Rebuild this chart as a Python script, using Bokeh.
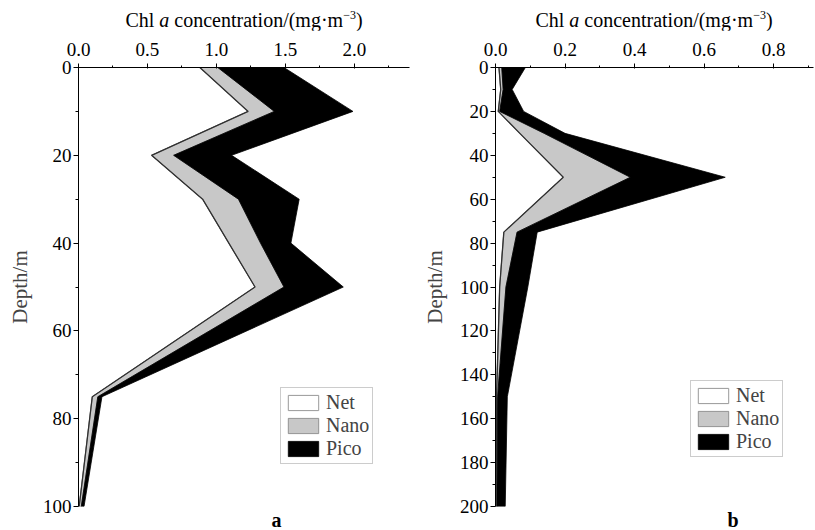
from bokeh.plotting import figure
from bokeh.layouts import row, column
from bokeh.models import Range1d, LinearAxis, FixedTicker, Legend, LegendItem, Div, Title
from bokeh.embed import file_html
from bokeh.resources import INLINE

# ---------------- data ----------------
# panel a : Chl a per size class (mg m-3) at each depth (m)
depth_a = [0, 10, 20, 30, 40, 50, 75, 100]
net_a = [0.88, 1.23, 0.53, 0.90, 1.09, 1.28, 0.10, 0.005]
nano_a = [0.13, 0.19, 0.16, 0.26, 0.23, 0.21, 0.04, 0.015]
pico_a = [0.48, 0.57, 0.42, 0.44, 0.22, 0.43, 0.03, 0.02]

# panel b
depth_b = [0, 10, 20, 30, 50, 75, 100, 150, 200]
net_b = [0.010, 0.015, 0.008, 0.07, 0.195, 0.024, 0.012, 0.003, 0.002]
nano_b = [0.008, 0.007, 0.004, 0.07, 0.193, 0.038, 0.018, 0.003, 0.002]
pico_b = [0.068, 0.026, 0.069, 0.06, 0.273, 0.058, 0.063, 0.028, 0.024]

classes = ["Net", "Nano", "Pico"]
panel_letters = ["a", "b"]

xticks_a = [0.0, 0.5, 1.0, 1.5, 2.0]
xlabels_a = ["0.0", "0.5", "1.0", "1.5", "2.0"]
xminor_a = [0.25, 0.75, 1.25, 1.75, 2.25]
yticks_a = [0, 20, 40, 60, 80, 100]
yminor_a = [10, 30, 50, 70, 90]

xticks_b = [0.0, 0.2, 0.4, 0.6, 0.8]
xlabels_b = ["0.0", "0.2", "0.4", "0.6", "0.8"]
xminor_b = [0.1, 0.3, 0.5, 0.7, 0.9]
yticks_b = [0, 20, 40, 60, 80, 100, 120, 140, 160, 180, 200]
yminor_b = [10, 30, 50, 70, 90, 110, 130, 150, 170, 190]

FONT = "Liberation Serif"


def cumulate(*series):
    out = []
    acc = [0.0] * len(series[0])
    for s in series:
        acc = [a + v for a, v in zip(acc, s)]
        out.append(acc)
    return out


def band(depth, left, right):
    xs = list(left) + list(reversed(right))
    ys = list(depth) + list(reversed(depth))
    return xs, ys


def panel(width, mb_left, mb_right, mb_top, mb_bottom, xmax, ymax,
          depth, net, nano, pico, xticks, xlabels, xminor, yticks, yminor,
          ylab_standoff, legend_loc, letter, letter_offset):
    p = figure(width=width, height=500, x_range=Range1d(0, xmax),
               y_range=Range1d(ymax, 0), output_backend="svg",
               toolbar_location=None, x_axis_location=None,
               y_axis_location=None, min_border_left=mb_left,
               min_border_right=mb_right, min_border_top=mb_top,
               min_border_bottom=mb_bottom)
    p.outline_line_color = None
    p.background_fill_color = "white"
    p.border_fill_color = "white"
    p.xgrid.visible = False
    p.ygrid.visible = False

    c_net, c_nano, c_pico = cumulate(net, nano, pico)
    zero = [0.0] * len(depth)

    xs, ys = band(depth, zero, c_net)
    r_net = p.patch(xs, ys, fill_color="white", line_color="#999999", line_width=1)
    xs, ys = band(depth, c_net, c_nano)
    r_nano = p.patch(xs, ys, fill_color="#c8c8c8", line_color="#808080", line_width=0.8)
    xs, ys = band(depth, c_nano, c_pico)
    r_pico = p.patch(xs, ys, fill_color="black", line_color="black", line_width=0.8)
    p.line(c_net, depth, line_color="#303030", line_width=1.3)

    xa = LinearAxis(ticker=FixedTicker(ticks=xticks, minor_ticks=xminor),
                    major_label_overrides={t: l for t, l in zip(xticks, xlabels)})
    xa.major_label_text_font = FONT
    xa.major_label_text_font_size = "19px"
    xa.major_label_text_color = "black"
    xa.major_tick_out = 4
    xa.major_tick_in = 1
    xa.minor_tick_out = 2
    xa.minor_tick_in = 0
    xa.major_label_standoff = 8
    xa.axis_line_color = "black"
    p.add_layout(xa, "above")

    ya = LinearAxis(ticker=FixedTicker(ticks=yticks, minor_ticks=yminor),
                    axis_label="Depth/m")
    ya.axis_label_text_font = FONT
    ya.axis_label_text_font_style = "normal"
    ya.axis_label_text_font_size = "21px"
    ya.axis_label_standoff = ylab_standoff
    ya.major_label_text_font = FONT
    ya.major_label_text_font_size = "19px"
    ya.major_label_text_color = "black"
    ya.major_tick_out = 5
    ya.major_tick_in = 0
    ya.minor_tick_out = 3
    ya.minor_tick_in = 0
    ya.major_label_standoff = 2
    p.add_layout(ya, "left")

    legend = Legend(items=[LegendItem(label=classes[0], renderers=[r_net]),
                           LegendItem(label=classes[1], renderers=[r_nano]),
                           LegendItem(label=classes[2], renderers=[r_pico])],
                    location=legend_loc)
    legend.label_text_font = FONT
    legend.label_text_font_size = "20px"
    legend.glyph_width = 38
    legend.glyph_height = 19
    legend.spacing = 0
    legend.padding = 3
    legend.margin = 0
    legend.label_standoff = 4
    legend.border_line_color = "#999999"
    legend.border_line_width = 1
    legend.background_fill_alpha = 1.0
    p.add_layout(legend)

    p.add_layout(Title(text=letter, align="left", offset=letter_offset,
                       text_font=FONT, text_font_size="20px",
                       text_font_style="bold", text_color="black",
                       standoff=0), "below")
    return p


pa = panel(415, 78, 6, 35, 21, 2.4, 100, depth_a, net_a, nano_a, pico_a,
           xticks_a, xlabels_a, xminor_a, yticks_a, yminor_a, 8, (202, 42),
           panel_letters[0], 193)
pb = panel(400, 80, 2, 37, 18, 0.915, 200, depth_b, net_b, nano_b, pico_b,
           xticks_b, xlabels_b, xminor_b, yticks_b, yminor_b, 10, (195, 49),
           panel_letters[1], 232)

title_html = ("Chl <i>a</i> concentration/(mg\u00b7m"
              "<span style='font-size:12px;position:relative;top:-8px'>\u22123</span>)")


def span(center, top, inner):
    return ("<div style=\"position:absolute;left:%dpx;top:%dpx;width:320px;"
            "text-align:center;font-family:'Liberation Serif';font-size:20px;"
            "line-height:20px;color:black;white-space:nowrap;\">%s</div>"
            % (center - 160, top, inner))


top_div = Div(text=("<div style='position:relative;width:815px;height:30px'>"
                    + span(244, 10, title_html) + span(654, 10, title_html)
                    + "</div>"),
              width=815, height=30, margin=0)

layout = column(top_div, row(pa, pb))
open("out.html", "w").write(file_html(layout, INLINE))
